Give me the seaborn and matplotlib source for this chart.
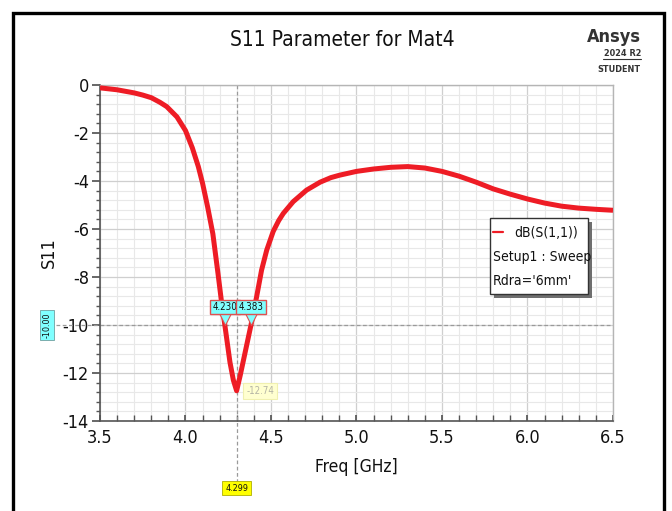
import matplotlib
matplotlib.use("Agg")
import matplotlib.pyplot as plt
import matplotlib.transforms as mtransforms
from matplotlib.lines import Line2D
from matplotlib.patches import Rectangle
from matplotlib.ticker import MultipleLocator
import pandas as pd
import seaborn as sns

# values
freq_ghz = [3.5, 3.6, 3.7, 3.75, 3.8, 3.85, 3.89, 3.95, 4.0, 4.04, 4.075, 4.1, 4.13,
            4.16, 4.19, 4.21, 4.23, 4.26, 4.28, 4.299, 4.32, 4.35, 4.383, 4.416,
            4.445, 4.475, 4.513, 4.545, 4.572, 4.63, 4.708, 4.787, 4.85, 4.9, 5.0,
            5.1, 5.2, 5.3, 5.4, 5.5, 5.6, 5.7, 5.8, 5.9, 6.0, 6.1, 6.2, 6.3, 6.4, 6.5]
s11_db = [-0.12, -0.20, -0.33, -0.42, -0.53, -0.72, -0.90, -1.33, -1.90, -2.62,
          -3.40, -4.10, -5.10, -6.20, -7.85, -9.00, -10.00, -11.55, -12.30, -12.74,
          -12.10, -11.10, -10.00, -8.82, -7.71, -6.88, -6.10, -5.65, -5.35, -4.86,
          -4.38, -4.05, -3.86, -3.76, -3.60, -3.50, -3.43, -3.40, -3.46, -3.60,
          -3.80, -4.05, -4.33, -4.55, -4.75, -4.92, -5.05, -5.13, -5.18, -5.22]

x_ticks = [3.5, 4.0, 4.5, 5.0, 5.5, 6.0, 6.5]
y_ticks = [0, -2, -4, -6, -8, -10, -12, -14]

ref_level = -10.0
band_edges = [4.230, 4.383]
min_freq = 4.299
min_value = -12.74

legend_lines = ["dB(S(1,1))", "Setup1 : Sweep", "Rdra='6mm'"]

RED = "#ee1c25"
CYAN = "#80ffff"
INK = "#111111"


def main() -> None:
    sns.set_theme(style="white")
    plt.rcParams["font.family"] = ["DejaVu Sans"]
    plt.rcParams["font.stretch"] = "condensed"

    df = pd.DataFrame({"Freq": freq_ghz, "S11": s11_db})

    fig = plt.figure(figsize=(6.72, 5.11), dpi=100)
    ax = fig.add_axes([0.1488, 0.1761, 0.7634, 0.6576])

    sns.lineplot(data=df, x="Freq", y="S11", ax=ax, color=RED, linewidth=3.6,
                 solid_joinstyle="round", solid_capstyle="butt", zorder=5)

    ax.set_xlim(3.5, 6.5)
    ax.set_ylim(-14, 0)
    ax.set_xticks(x_ticks)
    ax.set_yticks(y_ticks)
    ax.xaxis.set_minor_locator(MultipleLocator(0.1))
    ax.yaxis.set_minor_locator(MultipleLocator(0.4))
    ax.set_xticklabels([f"{v:.1f}" for v in x_ticks], fontsize=13, color=INK)
    ax.set_yticklabels([f"{v:d}" for v in y_ticks], fontsize=13, color=INK)
    ax.grid(which="major", color="#cfcfcf", linewidth=0.9)
    ax.grid(which="minor", color="#e8e8e8", linewidth=0.8)
    ax.set_axisbelow(True)

    ax.tick_params(axis="y", which="major", direction="out", length=6, color="#555555",
                   left=True, pad=2)
    ax.tick_params(axis="y", which="minor", direction="out", length=3, color="#555555",
                   left=True)
    ax.tick_params(axis="x", which="both", direction="in", length=4, color="#555555",
                   bottom=True, pad=6)
    for side in ["left", "bottom"]:
        ax.spines[side].set_color("#555555")
        ax.spines[side].set_linewidth(1.2)
    for side in ["top", "right"]:
        ax.spines[side].set_color("#b5b5b5")
        ax.spines[side].set_linewidth(1.0)

    ax.set_xlabel("Freq [GHz]", fontsize=12.5, labelpad=8, color=INK)
    ax.set_ylabel("S11", fontsize=13, labelpad=3, color=INK)

    # marker lines
    ax.axhline(ref_level, color="#9a9a9a", linestyle=(0, (3, 2)), linewidth=0.9, zorder=2)
    xline = mtransforms.blended_transform_factory(ax.transData, ax.transAxes)
    yline = mtransforms.blended_transform_factory(ax.transAxes, ax.transData)
    ax.plot([min_freq, min_freq], [1.0, -0.19], transform=xline, color="#9a9a9a",
            linestyle=(0, (3, 2)), linewidth=0.9, clip_on=False, zorder=2)
    ax.plot([-0.085, 0.0], [ref_level, ref_level], transform=yline, color="#9a9a9a",
            linestyle=(0, (3, 2)), linewidth=0.9, clip_on=False, zorder=2)

    # band-edge markers
    for f in band_edges:
        ax.plot([f], [ref_level], marker="v", markersize=9, color=CYAN,
                markeredgecolor="#e05050", markeredgewidth=0.8, zorder=7,
                transform=ax.transData + mtransforms.ScaledTranslation(0, 6 / 100, fig.dpi_scale_trans))
        ax.annotate(f"{f:.3f}", xy=(f, ref_level), xytext=(0, 13), textcoords="offset points",
                    ha="center", va="center", fontsize=7, color=INK, zorder=8,
                    bbox=dict(boxstyle="square,pad=0.25", facecolor=CYAN, edgecolor="#e05050",
                              linewidth=1.0))

    ax.annotate(f"{min_value:.2f}", xy=(min_freq, min_value), xytext=(17, 0),
                textcoords="offset points", ha="center", va="center", fontsize=7,
                color="#b5b5a5", zorder=8,
                bbox=dict(boxstyle="square,pad=0.3", facecolor="#ffffd0", edgecolor="#f0f0b0",
                          linewidth=0.8))
    ax.text(min_freq, -0.2, f"{min_freq:.3f}", transform=xline, ha="center", va="center",
            fontsize=6.5, color=INK,
            bbox=dict(boxstyle="square,pad=0.3", facecolor="#ffff00", edgecolor="#b0b000",
                      linewidth=0.6))
    ax.text(-0.103, ref_level, f"{ref_level:.2f}", transform=yline, ha="center", va="center",
            rotation=90, fontsize=6.5, color=INK,
            bbox=dict(boxstyle="square,pad=0.25", facecolor=CYAN, edgecolor="#70a0a0",
                      linewidth=0.6))

    # legend box with shadow
    lx0, ly0, lx1, ly1 = 490 / 672, 1 - 294 / 511, 588 / 672, 1 - 218 / 511
    fig.patches.append(Rectangle((lx0 + 4 / 672, ly0 - 4 / 511), lx1 - lx0, ly1 - ly0,
                                 transform=fig.transFigure, facecolor="#6f6f6f",
                                 edgecolor="none", zorder=10))
    fig.patches.append(Rectangle((lx0, ly0), lx1 - lx0, ly1 - ly0, transform=fig.transFigure,
                                 facecolor="white", edgecolor="#333333", linewidth=1.0,
                                 zorder=11))
    fig.lines.append(Line2D([493 / 672, 503 / 672], [1 - 232 / 511, 1 - 232 / 511],
                            transform=fig.transFigure, color=RED, linewidth=1.6, zorder=12))
    fig.text(578 / 672, 1 - 233 / 511, legend_lines[0], ha="right", va="center",
             fontsize=10, color=INK, zorder=12)
    fig.text(493 / 672, 1 - 257 / 511, legend_lines[1], ha="left", va="center",
             fontsize=10, color=INK, zorder=12)
    fig.text(493 / 672, 1 - 281 / 511, legend_lines[2], ha="left", va="center",
             fontsize=10, color=INK, zorder=12)

    # title and watermark
    fig.text(342 / 672, 1 - 40 / 511, "S11 Parameter for Mat4", ha="center", va="center",
             fontsize=15, color=INK)
    fig.text(641 / 672, 1 - 37 / 511, "Ansys", ha="right", va="center", fontsize=13,
             fontweight="bold", color="#333333")
    fig.text(641 / 672, 1 - 53 / 511, "2024 R2", ha="right", va="center", fontsize=6.5,
             fontweight="bold", color="#333333")
    fig.lines.append(Line2D([603 / 672, 641 / 672], [1 - 59 / 511, 1 - 59 / 511],
                            transform=fig.transFigure, color="#333333", linewidth=0.8))
    fig.text(641 / 672, 1 - 69 / 511, "STUDENT", ha="right", va="center", fontsize=6.5,
             fontweight="bold", color="#333333")

    # outer frame
    fig.patches.append(Rectangle((13 / 672, -0.02), 651 / 672, 1 - 13 / 511 + 0.02,
                                 transform=fig.transFigure, facecolor="none",
                                 edgecolor="black", linewidth=2.4, zorder=20))

    fig.savefig("out.png", dpi=100)
    plt.close(fig)


if __name__ == "__main__":
    main()
